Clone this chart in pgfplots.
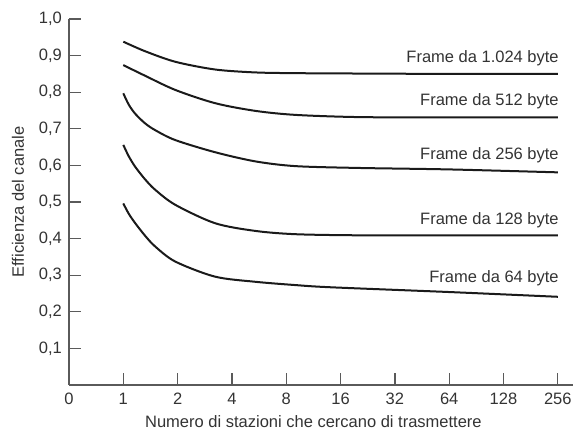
\documentclass[border=0pt]{standalone}
\usepackage{pgfplots}
\pgfplotsset{compat=1.18}
\usepackage{fontspec}
\setmainfont{Liberation Sans}
\definecolor{txt}{HTML}{333333}
\definecolor{axl}{HTML}{5A5A5A}
\definecolor{crv}{HTML}{1A1A1A}
\newcommand{\fs}{\fontsize{16.5}{19}\selectfont}
\begin{document}
\begin{tikzpicture}
\begin{axis}[
  at={(0,0)}, anchor=south west,
  scale only axis, width=504pt, height=366pt,
  xmin=0, xmax=9.28, ymin=0, ymax=1,
  axis x line=bottom, axis y line=left,
  axis line style={-, color=axl, line width=1.3pt},
  tick style={color=axl, line width=1.3pt},
  tick align=inside, major tick length=12pt,
  xtick={0,1,2,3,4,5,6,7,8,9},
  xticklabels={0,1,2,4,8,16,32,64,128,256},
  ytick={0.1,0.2,0.3,0.4,0.5,0.6,0.7,0.8,0.9,1.0},
  yticklabels={{0,1},{0,2},{0,3},{0,4},{0,5},{0,6},{0,7},{0,8},{0,9},{1,0}},
  xticklabel style={font=\fs, text=txt, anchor=north, inner sep=0pt, yshift=-8pt},
  yticklabel style={font=\fs, text=txt, anchor=east, inner sep=0pt, xshift=-7pt},
  xlabel={Numero di stazioni che cercano di trasmettere},
  ylabel={Efficienza del canale},
  xlabel style={font=\fs, text=txt, at={(axis description cs:0.485,-0.101)}, anchor=center},
  ylabel style={font=\fs, text=txt, at={(axis description cs:-0.101,0.5)}, anchor=center},
  clip=false,
  curve/.style={color=crv, line width=2pt, smooth, no marks},
]
% 1024 byte
\addplot[curve] coordinates {(1,0.938) (1.4,0.912) (1.96,0.883) (2.69,0.862) (3.43,0.854) (4.17,0.852) (5.33,0.851) (7,0.850) (9,0.850)};
% 512 byte
\addplot[curve] coordinates {(1,0.874) (1.4,0.845) (1.96,0.806) (2.69,0.770) (3.43,0.749) (4.17,0.738) (5.33,0.732) (7,0.731) (9,0.731)};
% 256 byte
\addplot[curve] coordinates {(1,0.797) (1.1,0.766) (1.22,0.741) (1.4,0.715) (1.59,0.696) (1.96,0.669) (2.69,0.636) (3.43,0.611) (4.17,0.598) (5.33,0.593) (7,0.589) (9,0.581)};
% 128 byte
\addplot[curve] coordinates {(1,0.656) (1.1,0.625) (1.22,0.596) (1.4,0.562) (1.59,0.533) (1.96,0.492) (2.69,0.442) (3.43,0.421) (4.17,0.412) (5.33,0.409) (7,0.409) (9,0.409)};
% 64 byte
\addplot[curve] coordinates {(1,0.496) (1.1,0.468) (1.22,0.442) (1.4,0.408) (1.59,0.378) (1.96,0.337) (2.69,0.296) (3.43,0.282) (4.17,0.273) (4.82,0.267) (7,0.254) (9,0.241)};
\node[font=\fs, text=txt, anchor=east, inner sep=0pt] at (axis cs:9.02,0.893) {Frame da 1.024 byte};
\node[font=\fs, text=txt, anchor=east, inner sep=0pt] at (axis cs:9.02,0.774) {Frame da 512 byte};
\node[font=\fs, text=txt, anchor=east, inner sep=0pt] at (axis cs:9.02,0.628) {Frame da 256 byte};
\node[font=\fs, text=txt, anchor=east, inner sep=0pt] at (axis cs:9.02,0.451) {Frame da 128 byte};
\node[font=\fs, text=txt, anchor=east, inner sep=0pt] at (axis cs:9.02,0.292) {Frame da 64 byte};
\end{axis}
\pgfresetboundingbox
\path[use as bounding box] (-69pt,-48pt) rectangle (507pt,385pt);
\end{tikzpicture}
\end{document}
